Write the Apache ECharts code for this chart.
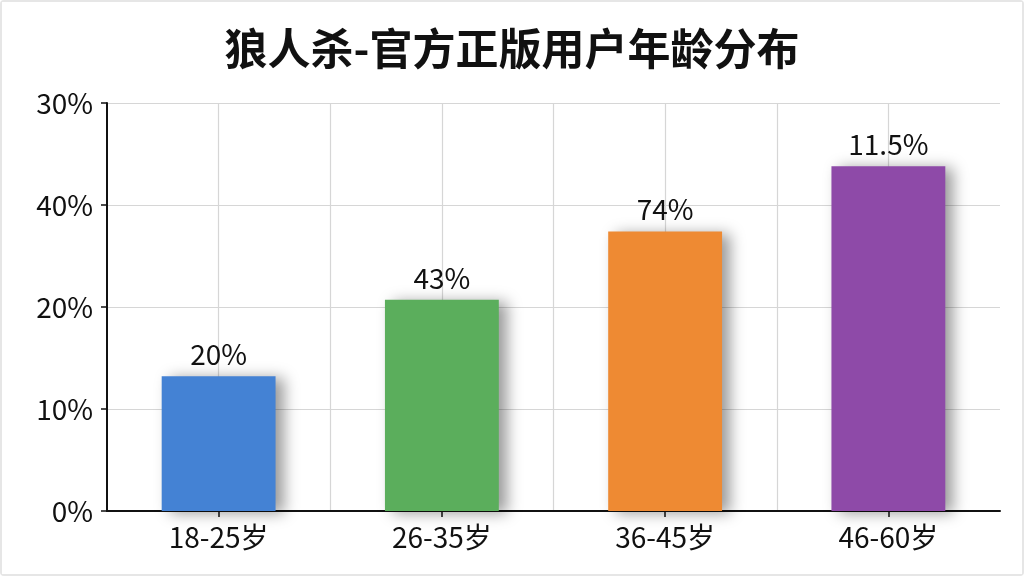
<!DOCTYPE html>
<html>
<head>
<meta charset="utf-8">
<script src="https://cdn.jsdelivr.net/npm/echarts@6/dist/echarts.min.js"></script>
<style>
html,body{margin:0;padding:0;background:#fff;}
#chart{width:1024px;height:576px;box-sizing:border-box;border:2px solid #e6e6e6;border-radius:4px;}
</style>
</head>
<body>
<div id="chart"></div>
<script>
var titleText = '狼人杀-官方正版用户年龄分布';
var categories = ['18-25岁', '26-35岁', '36-45岁', '46-60岁'];
var barHeights = [13.2, 20.7, 27.4, 33.8];
var barLabels = ['20%', '43%', '74%', '11.5%'];
var barColors = ['#4482D4', '#5BAE5C', '#EE8A33', '#8E4AA8'];
var yTickLabels = ['0%', '10%', '20%', '40%', '30%'];

var font = '"Noto Sans CJK SC", "Noto Sans", sans-serif';
var chart = echarts.init(document.getElementById('chart'));
chart.setOption({
  backgroundColor: '#fff',
  animation: false,
  title: {
    text: titleText, left: 'center', top: 20,
    textStyle: { fontSize: 43, fontWeight: 'bold', color: '#111', fontFamily: font }
  },
  grid: { left: 105, right: 22, top: 101, bottom: 63 },
  xAxis: [{
    type: 'category', data: categories,
    axisLine: { lineStyle: { color: '#111', width: 2 } },
    axisTick: { show: true, alignWithLabel: true, length: 6, lineStyle: { color: '#111', width: 1.5 } },
    axisLabel: { fontSize: 28, color: '#111', fontFamily: font, margin: 12 },
    splitLine: { show: false }
  }, {
    type: 'value', min: 0, max: 8, interval: 1, position: 'top',
    axisLine: { show: false }, axisTick: { show: false }, axisLabel: { show: false },
    splitLine: { show: true, showMinLine: false, showMaxLine: false, lineStyle: { color: '#d6d6d6', width: 1.2 } }
  }],
  yAxis: {
    type: 'value', min: 0, max: 40, interval: 10,
    axisLine: { show: true, lineStyle: { color: '#111', width: 2 } },
    axisTick: { show: true, length: 6, lineStyle: { color: '#111', width: 1.5 } },
    axisLabel: {
      fontSize: 28, color: '#111', fontFamily: font, margin: 14,
      formatter: function (v) { return yTickLabels[Math.round(v / 10)]; }
    },
    splitLine: { show: true, lineStyle: { color: '#d6d6d6', width: 1.2 } }
  },
  series: [{
    type: 'bar', xAxisIndex: 0,
    barWidth: '51%',
    data: barHeights.map(function (v, i) {
      return {
        value: v,
        itemStyle: {
          color: barColors[i],
          shadowColor: 'rgba(0,0,0,0.4)', shadowBlur: 14, shadowOffsetX: 8, shadowOffsetY: 2
        },
        label: { formatter: barLabels[i] }
      };
    }),
    label: { show: true, position: 'top', distance: 8, fontSize: 28, color: '#111', fontFamily: font }
  }]
});
</script>
</body>
</html>
